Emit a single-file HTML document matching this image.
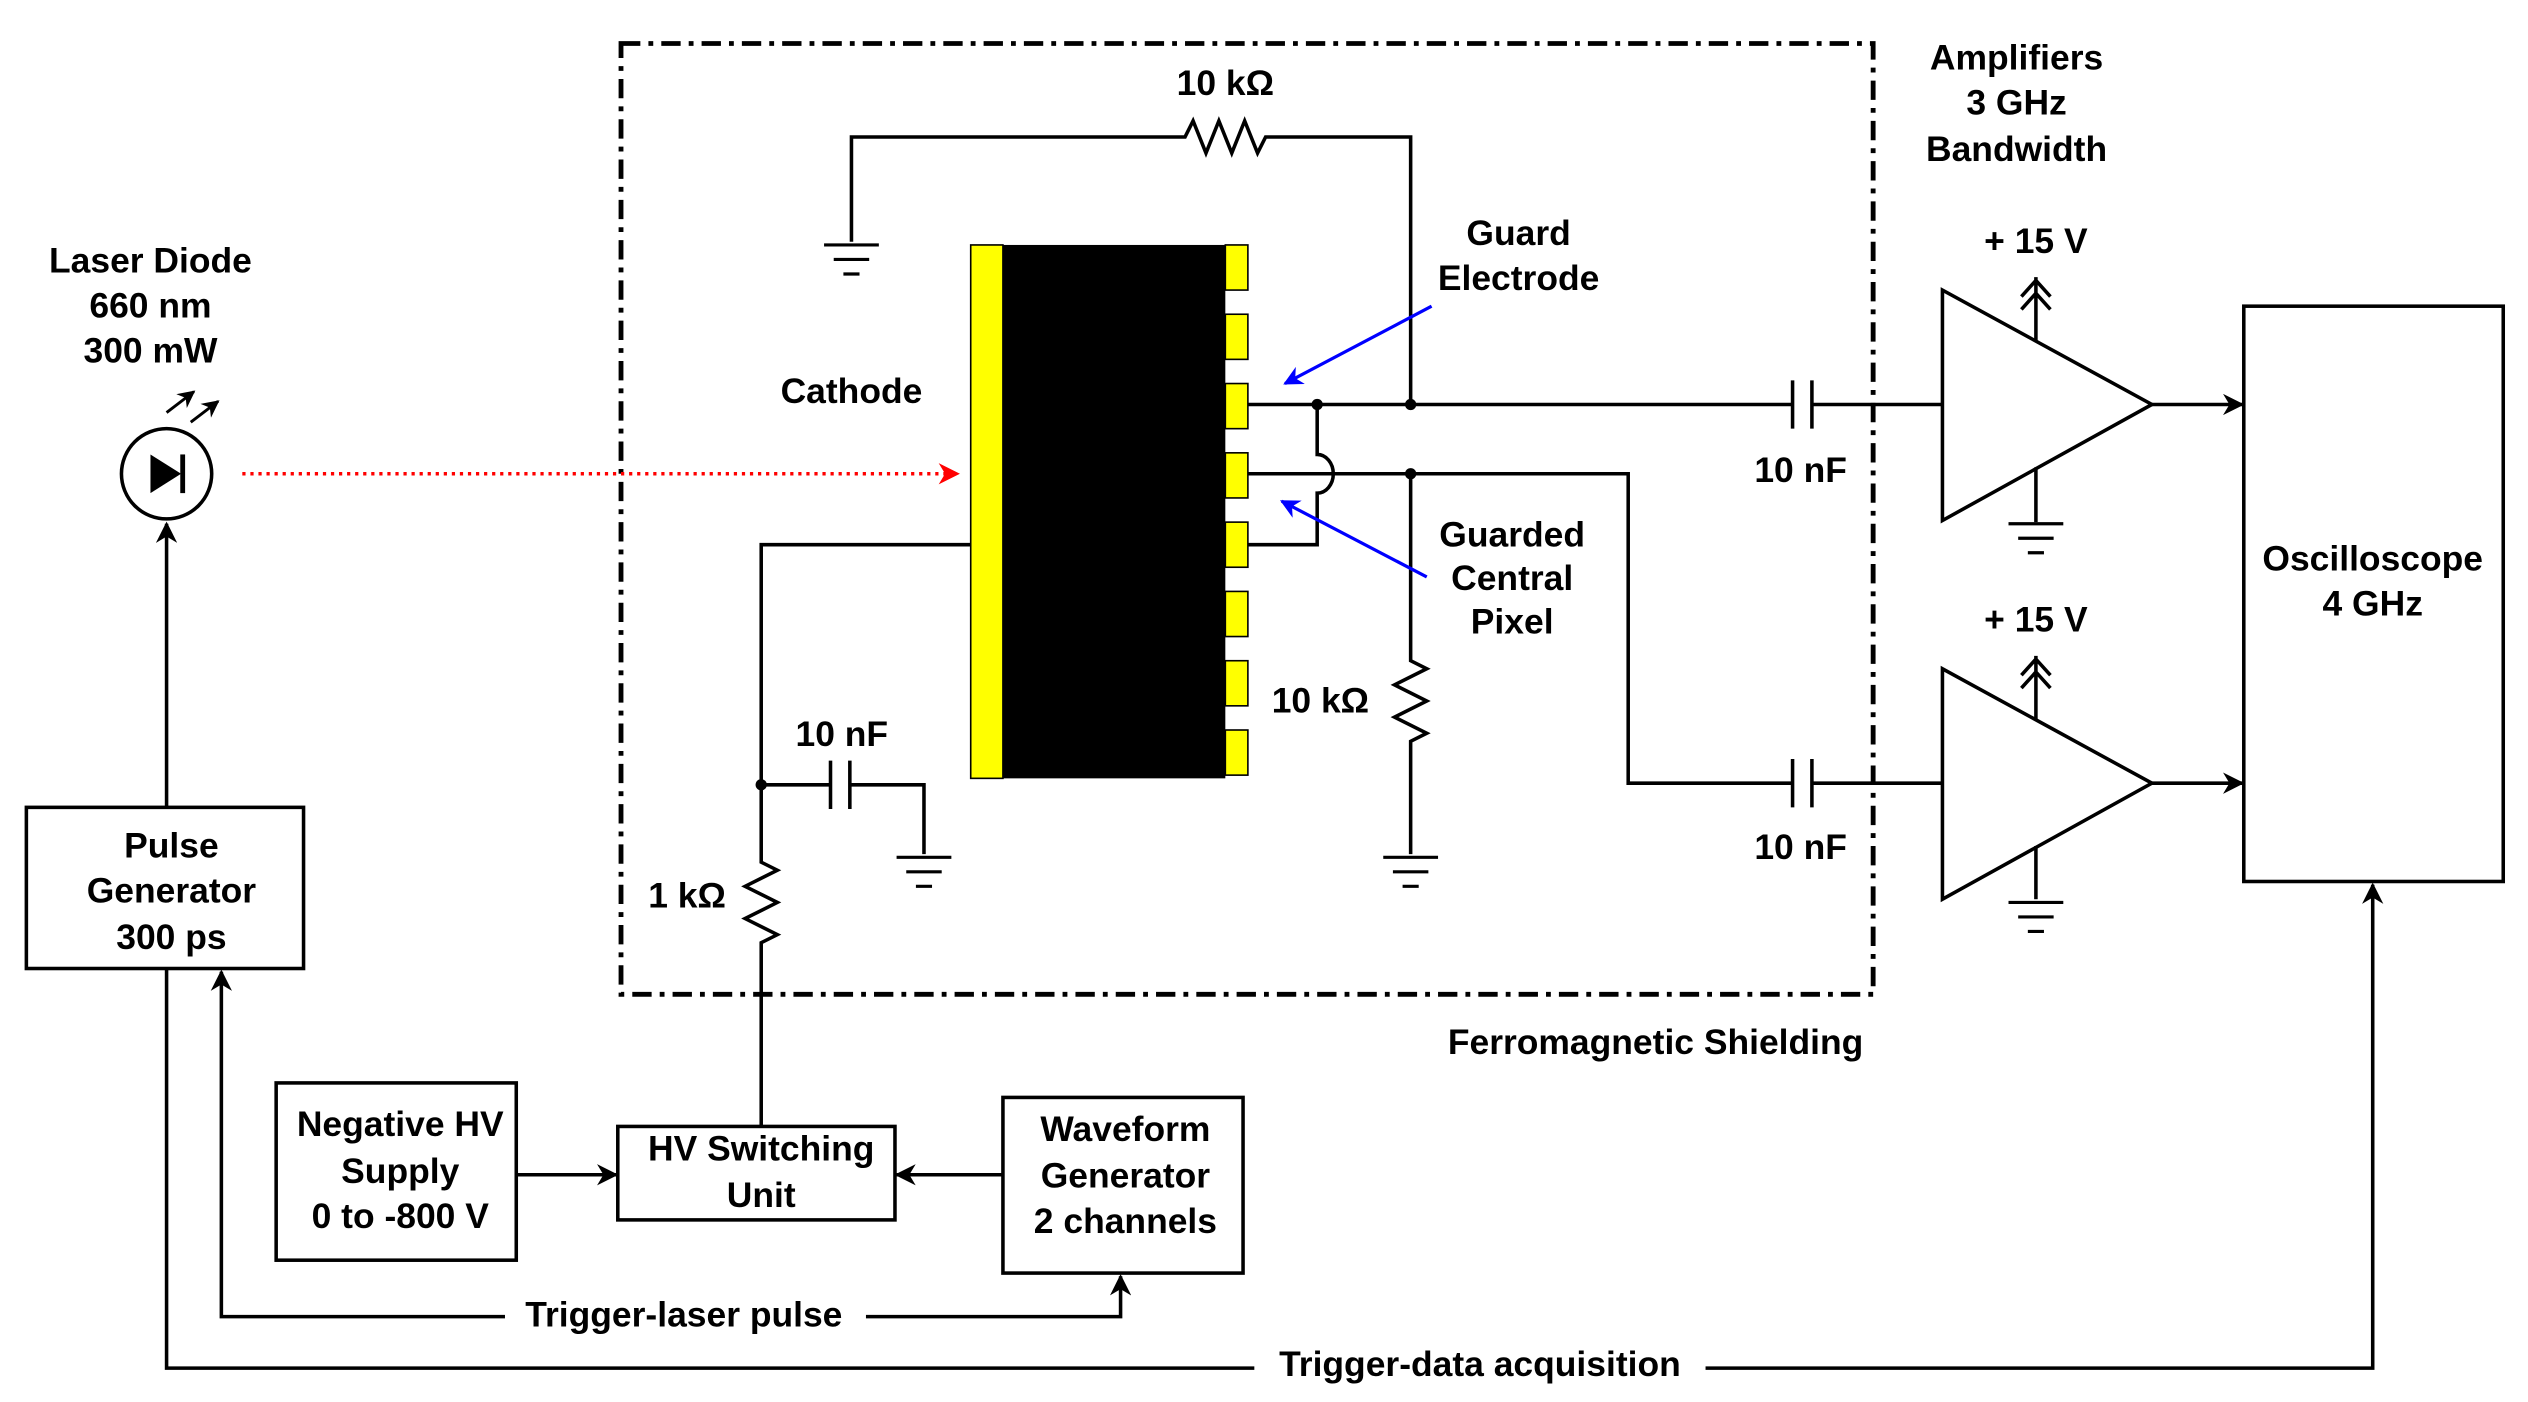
<!DOCTYPE html>
<html><head><meta charset="utf-8"><style>
html,body{margin:0;padding:0;background:#fff;}
svg{display:block;}
text{font-family:"Liberation Sans",Arial,sans-serif;font-weight:bold;font-size:22px;fill:#000;text-anchor:middle;}
</style></head><body>
<svg width="2528" height="1402" viewBox="0 0 1568 870" xmlns="http://www.w3.org/2000/svg">
<defs>
<marker id="a" viewBox="0 0 10 10" refX="9" refY="5" markerWidth="6" markerHeight="6" orient="auto"><path d="M0,0 L10,5 L0,10 L3,5 z" fill="#000"/></marker>
<marker id="r" viewBox="0 0 10 10" refX="9" refY="5" markerWidth="6" markerHeight="6" orient="auto"><path d="M0,0 L10,5 L0,10 L3,5 z" fill="#f00"/></marker>
<marker id="b" viewBox="0 0 10 10" refX="9" refY="5" markerWidth="6" markerHeight="6" orient="auto"><path d="M0,0 L10,5 L0,10 L3,5 z" fill="#00f"/></marker>
<g id="gnd" stroke="#000" stroke-width="2"><line x1="-17" y1="0" x2="17" y2="0"/><line x1="-11" y1="9" x2="11" y2="9"/><line x1="-5" y1="18" x2="5" y2="18"/></g>
</defs>
<g fill="none" stroke="#000" stroke-width="2.2">
<rect x="385" y="27" width="777" height="590" stroke-width="3" stroke-dasharray="12,5,3,5"/>
<circle cx="103" cy="294" r="28"/>
<line x1="103" y1="501" x2="103" y2="325" marker-end="url(#a)"/>
<line x1="103" y1="256" x2="120" y2="243" marker-end="url(#a)" stroke-width="1.8"/>
<line x1="118" y1="262" x2="135" y2="249" marker-end="url(#a)" stroke-width="1.8"/>
<rect x="16" y="501" width="172" height="100"/>
<path d="M528,150 V85 H735 l5,-10 l8,20 l8,-20 l8,20 l8,-20 l8,20 l5,-10 H875 V251"/>
<path d="M774,251 H1112 M1124,251 H1205"/>
<path d="M1112,236 V266 M1124,236 V266"/>
<path d="M817,251 V282 A10,12 0 0 1 817,306 V338 H774"/>
<path d="M774,294 H1010 V486 H1112 M1124,486 H1205"/>
<path d="M1112,471 V501 M1124,471 V501"/>
<path d="M875,294 V410 l10,5 l-20,10 l20,10 l-20,10 l20,10 l-10,5 V530"/>
<path d="M602,338 H472 V535 l10,5 l-20,10 l20,10 l-20,10 l20,10 l-10,5 V700"/>
<path d="M472,487 H515 M527,487 H573 V530 M515,472 V502 M527,472 V502"/>
<path d="M1205,180 V323 L1335,251 Z"/>
<path d="M1205,415 V558 L1335,486 Z"/>
<line x1="1335" y1="251" x2="1391" y2="251" marker-end="url(#a)"/>
<line x1="1335" y1="486" x2="1391" y2="486" marker-end="url(#a)"/>
<path d="M1263,212 V172 M1254,184 L1263,174 L1272,184 M1254,192 L1263,182 L1272,192"/>
<path d="M1263,447 V407 M1254,419 L1263,409 L1272,419 M1254,427 L1263,417 L1272,427"/>
<line x1="1263" y1="290" x2="1263" y2="324"/>
<line x1="1263" y1="525" x2="1263" y2="558"/>
<rect x="1392" y="190" width="161" height="357"/>
<rect x="171" y="672" width="149" height="110"/>
<rect x="383" y="699" width="172" height="58"/>
<rect x="622" y="681" width="149" height="109"/>
<line x1="320" y1="729" x2="382" y2="729" marker-end="url(#a)"/>
<line x1="622" y1="729" x2="556" y2="729" marker-end="url(#a)"/>
<path d="M313,817 H137 V603" marker-end="url(#a)"/>
<path d="M537,817 H695 V792" marker-end="url(#a)"/>
<path d="M103,601 V849 H778"/>
<path d="M1058,849 H1472 V549" marker-end="url(#a)"/>
</g>
<use href="#gnd" x="528" y="152"/>
<use href="#gnd" x="875" y="532"/>
<use href="#gnd" x="573" y="532"/>
<use href="#gnd" x="1263" y="325"/>
<use href="#gnd" x="1263" y="560"/>
<path d="M93,282 L93,306 L112,294 Z" fill="#000"/>
<line x1="113" y1="282" x2="113" y2="306" stroke="#000" stroke-width="3"/>
<line x1="150" y1="294" x2="594" y2="294" stroke="#f00" stroke-width="2.2" stroke-dasharray="2,3" marker-end="url(#r)"/>
<rect x="602" y="152" width="20" height="331" fill="#ff0" stroke="#000" stroke-width="1"/>
<rect x="622" y="152" width="138" height="331" fill="#000"/>
<g fill="#ff0" stroke="#000" stroke-width="1">
<rect x="760" y="152" width="14" height="28"/><rect x="760" y="195" width="14" height="28"/>
<rect x="760" y="238" width="14" height="28"/><rect x="760" y="281" width="14" height="28"/>
<rect x="760" y="324" width="14" height="28"/><rect x="760" y="367" width="14" height="28"/>
<rect x="760" y="410" width="14" height="28"/><rect x="760" y="453" width="14" height="28"/>
</g>
<g fill="#000"><circle cx="817" cy="251" r="3.5"/><circle cx="875" cy="251" r="3.5"/><circle cx="875" cy="294" r="3.5"/><circle cx="472" cy="487" r="3.5"/></g>
<line x1="888" y1="190" x2="797" y2="238" stroke="#00f" stroke-width="2" marker-end="url(#b)"/>
<line x1="885" y1="358" x2="795" y2="311" stroke="#00f" stroke-width="2" marker-end="url(#b)"/>
<text x="93" y="169">Laser Diode</text><text x="93" y="197">660 nm</text><text x="93" y="225">300 mW</text>
<text x="106" y="532">Pulse</text><text x="106" y="560">Generator</text><text x="106" y="589">300 ps</text>
<text x="760" y="59">10 kΩ</text>
<text x="528" y="250">Cathode</text>
<text x="942" y="152">Guard</text><text x="942" y="180">Electrode</text>
<text x="938" y="339">Guarded</text><text x="938" y="366">Central</text><text x="938" y="393">Pixel</text>
<text x="819" y="442">10 kΩ</text>
<text x="522" y="463">10 nF</text>
<text x="426" y="563">1 kΩ</text>
<text x="1117" y="299">10 nF</text><text x="1117" y="533">10 nF</text>
<text x="1251" y="43">Amplifiers</text><text x="1251" y="71">3 GHz</text><text x="1251" y="100">Bandwidth</text>
<text x="1263" y="157">+ 15 V</text><text x="1263" y="392">+ 15 V</text>
<text x="1472" y="354">Oscilloscope</text><text x="1472" y="382">4 GHz</text>
<text x="1027" y="654">Ferromagnetic Shielding</text>
<text x="248" y="705">Negative HV</text><text x="248" y="734">Supply</text><text x="248" y="762">0 to -800 V</text>
<text x="472" y="720">HV Switching</text><text x="472" y="749">Unit</text>
<text x="698" y="708">Waveform</text><text x="698" y="737">Generator</text><text x="698" y="765">2 channels</text>
<text x="424" y="823">Trigger-laser pulse</text>
<text x="918" y="854">Trigger-data acquisition</text>
</svg>
</body></html>
